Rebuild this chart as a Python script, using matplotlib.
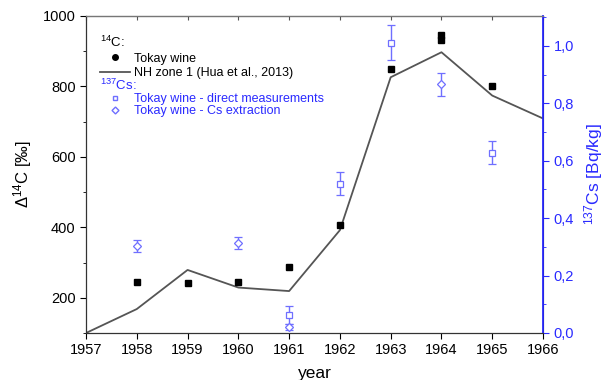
import numpy as np
import matplotlib
matplotlib.use("Agg")
import matplotlib.pyplot as plt
from matplotlib.lines import Line2D
from matplotlib.ticker import MultipleLocator, FuncFormatter

plt.rcParams['font.family'] = ['Liberation Sans', 'DejaVu Sans']
plt.rcParams['mathtext.fontset'] = 'custom'
plt.rcParams['mathtext.rm'] = 'Liberation Sans'
plt.rcParams['mathtext.it'] = 'Liberation Sans:italic'
plt.rcParams['mathtext.bf'] = 'Liberation Sans:bold'

# 14C data
wine_years = [1958, 1959, 1960, 1961, 1962, 1963, 1964, 1964, 1965]
wine_c14 = [245, 243, 246, 287, 407, 850, 946, 932, 800]

nh_years = [1957, 1958, 1959, 1960, 1961, 1962, 1963, 1964, 1965, 1966]
nh_c14 = [100, 168, 279, 229, 219, 392, 826, 897, 774, 709]

# 137Cs data
direct_years = [1961, 1962, 1963, 1965]
direct_cs = [0.063, 0.52, 1.011, 0.628]
direct_err = [0.03, 0.04, 0.062, 0.04]

extr_years = [1958, 1960, 1961, 1964]
extr_cs = [0.303, 0.313, 0.022, 0.866]
extr_err = [0.021, 0.02, 0.01, 0.04]

blue = '#2a2aff'
light_blue = '#6f6fff'
grey = '#555555'

fig = plt.figure(figsize=(6.07, 3.8), dpi=100)
ax = fig.add_axes([0.1417, 0.1237, 0.7529, 0.8343])
ax2 = ax.twinx()

ax.plot(nh_years, nh_c14, color=grey, lw=1.3, zorder=2)
ax.plot(wine_years, wine_c14, 's', color='black', ms=4, zorder=3)

ax2.errorbar(direct_years, direct_cs, yerr=direct_err, fmt='s', ms=4, mfc='white',
             mec=light_blue, ecolor=light_blue, elinewidth=1, capsize=3, mew=0.9)
ax2.errorbar(extr_years, extr_cs, yerr=extr_err, fmt='D', ms=4, mfc='white',
             mec=light_blue, ecolor=light_blue, elinewidth=1, capsize=3, mew=0.9)

ax.set_xlim(1957, 1966)
ax.set_ylim(100, 1000)
ax2.set_ylim(0, 1.104)

ax.xaxis.set_major_locator(MultipleLocator(1))
ax.yaxis.set_major_locator(MultipleLocator(200))
ax.yaxis.set_minor_locator(MultipleLocator(100))
ax2.yaxis.set_major_locator(MultipleLocator(0.2))
ax2.yaxis.set_minor_locator(MultipleLocator(0.1))
ax2.yaxis.set_major_formatter(FuncFormatter(lambda v, p: ('%.1f' % v).replace('.', ',')))

ax.tick_params(axis='both', labelsize=10.5, direction='out', length=4, colors='black')
ax.tick_params(axis='y', which='minor', direction='out', length=2.5)
ax2.tick_params(axis='y', which='both', colors=blue, labelsize=10.5, direction='out')
ax2.tick_params(axis='y', which='major', length=4)
ax2.tick_params(axis='y', which='minor', length=2.5)

# inward ticks on the top spine
top = ax.secondary_xaxis('top')
top.xaxis.set_major_locator(MultipleLocator(1))
top.tick_params(direction='in', length=3, labeltop=False, color=grey)
top.spines['top'].set_color('#777777')

for s in ['left', 'bottom']:
    ax2.spines[s].set_color('#333333')
ax2.spines['top'].set_color('#777777')
ax2.spines['right'].set_color(blue)
ax2.spines['right'].set_linewidth(1.3)

ax.set_xlabel('year', fontsize=12.5, labelpad=6)
ax.set_ylabel(r'$\Delta^{14}$C [‰]', fontsize=12, labelpad=6)
ax2.set_ylabel(r'$^{137}$Cs [Bq/kg]', fontsize=12.5, color=blue, labelpad=6)

# legends: one block per isotope, header as left-aligned title
leg_kw = dict(frameon=False, fontsize=9, title_fontsize=9.5, handlelength=2.4,
              handletextpad=0.3, borderpad=0, borderaxespad=0,
              loc='upper left', alignment='left')

c14_handles = [Line2D([], [], marker='o', color='black', ls='none', ms=4),
               Line2D([], [], color=grey, lw=1.3)]
c14_labels = ['Tokay wine', 'NH zone 1 (Hua et al., 2013)']
leg1 = ax2.legend(c14_handles, c14_labels, title=r'$^{14}$C:', labelspacing=0.2,
                  bbox_to_anchor=(0.031, 0.94), **leg_kw)
ax2.add_artist(leg1)

cs_handles = [Line2D([], [], marker='s', ls='none', mfc='white', mec=light_blue, ms=3.5),
              Line2D([], [], marker='D', ls='none', mfc='white', mec=light_blue, ms=3.5)]
cs_labels = ['Tokay wine - direct measurements', 'Tokay wine - Cs extraction']
leg2 = ax2.legend(cs_handles, cs_labels, title=r'$^{137}$Cs:', labelspacing=0.02,
                  bbox_to_anchor=(0.031, 0.805), **leg_kw)
leg2.get_title().set_color(blue)
for t in leg2.get_texts():
    t.set_color(blue)

fig.savefig('out.png', dpi=100)
